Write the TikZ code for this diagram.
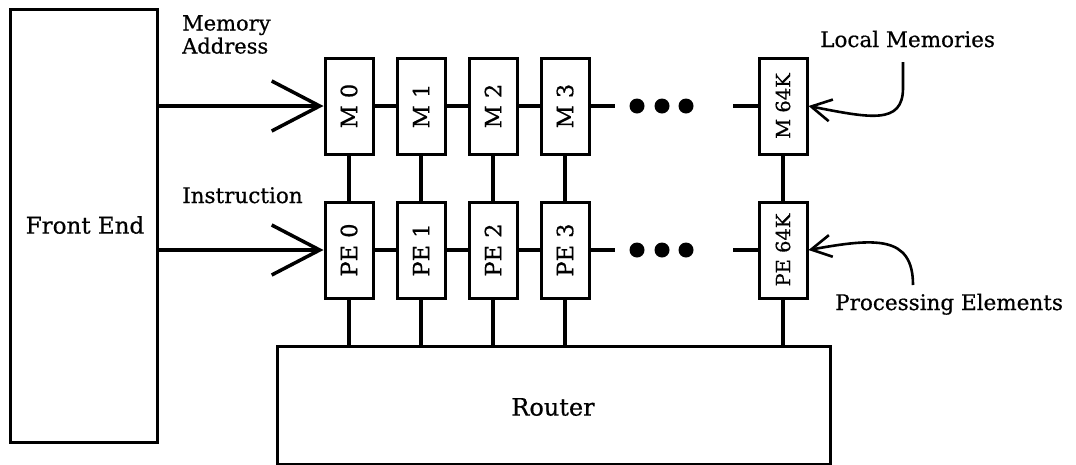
\documentclass[tikz,border=0pt]{standalone}
\usepackage{fontspec}
\setmainfont{DejaVu Serif}[FakeBold=0.6]
\usetikzlibrary{arrows.meta}
\newcommand{\fsz}[1]{\fontsize{#1}{#1}\selectfont}
\tikzset{
  unit/.style={draw, line width=3pt, minimum width=48pt, minimum height=96pt, inner sep=0pt},
  ulabel/.style={rotate=90, font=\fsz{22.5}},
  ulabelsm/.style={rotate=90, font=\fsz{19.5}},
  conn/.style={line width=3.5pt},
  bigarrow/.style={line width=3.5pt, -{Straight Barb[length=48pt,width=50pt,line width=3.5pt]}},
  labarrow/.style={line width=2.6pt, -{Straight Barb[length=20pt,width=22pt,line width=2.6pt]}},
  lbl/.style={font=\fsz{21.5}, inner sep=0pt},
  dot/.style={circle, fill=black, minimum size=15pt, inner sep=0pt},
}
\begin{document}
\begin{tikzpicture}[x=1pt,y=-1pt]
\useasboundingbox (0,0) rectangle (1076,464);
\fill[white] (0,0) rectangle (1076,464);
% Front End
\node[draw, line width=3pt, minimum width=147pt, minimum height=433pt, inner sep=0pt] (fe) at (83.5,225.5) {};
\node[font=\fsz{23}] (felab) at (85,225) {Front End};
% Router
\node[draw, line width=3pt, minimum width=553pt, minimum height=118pt, inner sep=0pt] (router) at (553.5,405) {};
\node[font=\fsz{24}] (rlab) at (553,407) {Router};
% Memory units
\node[unit] (m0) at (349,106) {}; \node[ulabel] at (m0) {M 0};
\node[unit] (m1) at (421,106) {}; \node[ulabel] at (m1) {M 1};
\node[unit] (m2) at (493,106) {}; \node[ulabel] at (m2) {M 2};
\node[unit] (m3) at (565,106) {}; \node[ulabel] at (m3) {M 3};
\node[unit] (mk) at (783,106) {}; \node[ulabelsm] at (mk) {M 64K};
% PE units
\node[unit] (p0) at (349,250) {}; \node[ulabel] at (p0) {PE 0};
\node[unit] (p1) at (421,250) {}; \node[ulabel] at (p1) {PE 1};
\node[unit] (p2) at (493,250) {}; \node[ulabel] at (p2) {PE 2};
\node[unit] (p3) at (565,250) {}; \node[ulabel] at (p3) {PE 3};
\node[unit] (pk) at (783,250) {}; \node[ulabelsm] at (pk) {PE 64K};
% dots
\node[dot] (md1) at (637,106) {}; \node[dot] (md2) at (662,106) {}; \node[dot] (md3) at (686,106) {};
\node[dot] (pd1) at (637,250) {}; \node[dot] (pd2) at (662,250) {}; \node[dot] (pd3) at (686,250) {};
\coordinate (me) at (615,106); \coordinate (ms) at (733,106);
\coordinate (pe) at (615,250); \coordinate (ps) at (733,250);
% chains
\draw[conn] (m0.east) -- (m1.west) (m1.east) -- (m2.west) (m2.east) -- (m3.west) (m3.east) -- (me) (ms) -- (mk.west);
\draw[conn] (p0.east) -- (p1.west) (p1.east) -- (p2.west) (p2.east) -- (p3.west) (p3.east) -- (pe) (ps) -- (pk.west);
% verticals
\foreach \a/\b in {m0/p0,m1/p1,m2/p2,m3/p3,mk/pk}{
  \draw[conn] (\a.south) -- (\b.north);
  \draw[conn] (\b.south) -- (\b.south |- router.north);
}
% inputs
\draw[bigarrow] (fe.east |- m0.west) -- (m0.west);
\draw[bigarrow] (fe.east |- p0.west) -- (p0.west);
\node[anchor=north west, align=left, font={\fontsize{21}{23}\selectfont}, inner sep=0pt] (malab) at (182,15) {Memory\\Address};
\node[lbl, anchor=base west] (inlab) at (182,203) {Instruction};
% side labels
\node[lbl, anchor=base west] (lm) at (820,47) {Local Memories};
\node[lbl, anchor=base west] (pel) at (835,310) {Processing Elements};
\coordinate (lmc) at (903,62);
\coordinate (pec) at (913,285);
\draw[labarrow] (lmc) -- (903,88) .. controls (903,125) and (870,118) .. (mk.east);
\draw[labarrow] (pec) .. controls (913,235) and (875,238) .. (pk.east);
\end{tikzpicture}
\end{document}
